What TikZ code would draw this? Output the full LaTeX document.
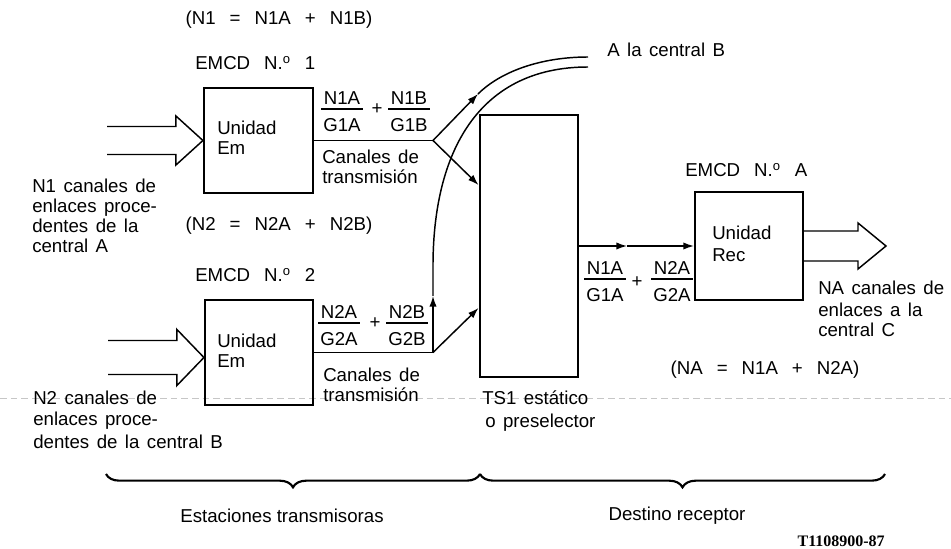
\documentclass[tikz,border=0pt]{standalone}
\usepackage{fontspec}
\setmainfont{Liberation Sans}
\newfontfamily\tagfont{Liberation Serif}
\usetikzlibrary{arrows.meta,calc,decorations.pathreplacing}
\newcommand\wsp{\hspace{0.35em}}
\newcommand\ordo{N.\textsuperscript{o}}
\newcommand\lblfont{\fontsize{14}{16}\selectfont\spaceskip=0.4em\relax}
\begin{document}
\begin{tikzpicture}[x=0.75pt,y=-0.75pt,
  lbl/.style={anchor=base west, inner sep=0pt, font=\lblfont},
  lblc/.style={anchor=base, inner sep=0pt, font=\lblfont},
  plus/.style={anchor=center, inner sep=0pt, font=\lblfont},
  blk/.style={draw, line width=1.6pt, inner sep=0pt},
  conn/.style={line width=1.1pt},
  tipd/.style={-{Latex[length=8pt,width=5.5pt]}},
  fbar/.style={line width=1.2pt},
  hollow/.style={line width=1.1pt, line join=miter},
  brc/.style={line width=1.6pt, decorate, decoration={brace, mirror, amplitude=10pt}},
  noise/.style={gray!45, line width=0.5pt, dash pattern=on 5pt off 3pt}
]
\useasboundingbox (0,0) rectangle (951,549);

% faint scan line
\draw[noise] (0,398) -- (951,398);

% blocks
\node[blk, minimum width=81.75pt, minimum height=78.75pt] (em1) at (258.5,140.5) {};
\node[blk, minimum width=81pt, minimum height=78.75pt] (em2) at (259,352.5) {};
\node[blk, line width=2.2pt, minimum width=73.5pt, minimum height=196.5pt] (tsi) at (529,246) {};
\node[blk, minimum width=81pt, minimum height=81pt] (rec) at (749,246) {};

% hollow input arrows
\coordinate (in1a) at (107,126.5);
\coordinate (in1b) at (107,154.5);
\draw[hollow] (in1a) -- ($(em1.west)+(-27,-14)$) -- ($(em1.west)+(-27,-24.5)$) -- (em1.west)
  -- ($(em1.west)+(-27,24.5)$) -- ($(em1.west)+(-27,14)$) -- (in1b);
\coordinate (tip2) at ($(em2.west)+(0,5)$);
\coordinate (in2a) at (108,340.5);
\coordinate (in2b) at (108,374.5);
\draw[hollow] (in2a) -- ($(tip2)+(-27,-17)$) -- ($(tip2)+(-27,-28)$) -- (tip2)
  -- ($(tip2)+(-27,28)$) -- ($(tip2)+(-27,17)$) -- (in2b);

% hollow output arrow
\coordinate (outtip) at (886,246);
\draw[hollow] ($(rec.east)+(0,-15)$) -- (858,231) -- (858,223) -- (outtip)
  -- (858,269) -- (858,261) -- ($(rec.east)+(0,15)$);

% connectors from EMCD 1
\coordinate (s1) at (433,140.5);
\coordinate (b1) at (478,94);
\coordinate (toB1) at (588,57);
\coordinate (t1in) at (tsi.west |- 0,185);
\draw[conn] (em1.east) -- (s1);
\draw[conn,tipd] (s1) -- (b1);
\draw[conn] (b1) .. controls (500,72) and (540,57) .. (toB1);
\draw[conn,tipd] (s1) -- (t1in);

% connectors from EMCD 2
\coordinate (s2) at (433,352.5);
\coordinate (up2) at (433,296);
\coordinate (bend2) at (433,270);
\coordinate (toB2) at (588,67);
\coordinate (t2in) at (tsi.west |- 0,308);
\draw[conn] (em2.east) -- (s2);
\draw[conn,tipd] (s2) -- (up2);
\draw[conn] (up2) -- (bend2) .. controls (432,150) and (480,67) .. (toB2);
\draw[conn,tipd] (s2) -- (t2in);

% TSI to receiver
\coordinate (mid3) at (627,246);
\draw[conn,tipd] (tsi.east) -- (mid3);
\draw[conn,tipd] (mid3) -- (rec.west);

% texts top
\node[lblc] (eq1) at (279,25) {(N1\wsp{} =\wsp{} N1A\wsp{} +\wsp{} N1B)};
\node[lbl] (emcd1) at (195,70) {EMCD\wsp{} \ordo\wsp{} 1};
\node[lbl] (un1) at (217,135) {Unidad};
\node[lbl] (em1t) at (217,155) {Em};

% fraction 1
\node[lblc] (f1n1) at (342,105) {N1A};
\node[lblc] (f1d1) at (342,132) {G1A};
\draw[fbar] (321,109) -- (363,109);
\node[plus] (f1p) at (377,109) {+};
\node[lblc] (f1n2) at (409,105) {N1B};
\node[lblc] (f1d2) at (409,132) {G1B};
\draw[fbar] (388,109) -- (430,109);

\node[lbl] (can1a) at (322,164) {Canales de};
\node[lbl] (can1b) at (322,184) {transmisión};

\node[lbl] (n1a) at (32,193) {N1 canales de};
\node[lbl] (n1b) at (32,213) {enlaces proce-};
\node[lbl] (n1c) at (32,233) {dentes de la};
\node[lbl] (n1d) at (32,253) {central A};

% EMCD 2
\node[lblc] (eq2) at (279,231) {(N2\wsp{} =\wsp{} N2A\wsp{} +\wsp{} N2B)};
\node[lbl] (emcd2) at (195,282) {EMCD\wsp{} \ordo\wsp{} 2};
\node[lbl] (un2) at (217,348) {Unidad};
\node[lbl] (em2t) at (217,368) {Em};

\node[lblc] (f2n1) at (339,319) {N2A};
\node[lblc] (f2d1) at (339,346) {G2A};
\draw[fbar] (318,323) -- (360,323);
\node[plus] (f2p) at (375,323) {+};
\node[lblc] (f2n2) at (407,319) {N2B};
\node[lblc] (f2d2) at (407,346) {G2B};
\draw[fbar] (386,323) -- (428,323);

\node[lbl] (can2a) at (323,382) {Canales de};
\node[lbl] (can2b) at (323,402) {transmisión};

\node[lbl] (n2a) at (33,404) {N2 canales de};
\node[lbl] (n2b) at (33,426) {enlaces proce-};
\node[lbl] (n2c) at (33,449) {dentes de la central B};

\node[lbl] (tsia) at (482,404) {TS1 estático};
\node[lbl] (tsib) at (485,427) {o preselector};

% right side
\node[lbl] (toB) at (607,57) {A la central B};
\node[lbl] (emcdA) at (685,177) {EMCD\wsp{} \ordo\wsp{} A};
\node[lbl] (unA) at (712,240) {Unidad};
\node[lbl] (recA) at (712,262) {Rec};

\node[lblc] (f3n1) at (605,275) {N1A};
\node[lblc] (f3d1) at (605,302) {G1A};
\draw[fbar] (584,279) -- (626,279);
\node[plus] (f3p) at (637,282) {+};
\node[lblc] (f3n2) at (672,275) {N2A};
\node[lblc] (f3d2) at (672,302) {G2A};
\draw[fbar] (651,279) -- (693,279);

\node[lbl] (naa) at (818,295) {NA canales de};
\node[lbl] (nab) at (818,317) {enlaces a la};
\node[lbl] (nac) at (818,337) {central C};
\node[lblc] (eqA) at (765,374) {(NA\wsp{} =\wsp{} N1A\wsp{} +\wsp{} N2A)};

% braces
\coordinate (br0) at (106,474);
\coordinate (br1) at (480,474);
\coordinate (br2) at (885,474);
\draw[brc] (br0) -- (br1);
\draw[brc] (br1) -- (br2);
\node[anchor=base, inner sep=0pt, font=\fontsize{14}{16}\selectfont] (est) at (282,522) {Estaciones transmisoras};
\node[anchor=base, inner sep=0pt, font=\fontsize{14}{16}\selectfont] (dest) at (677,520) {Destino receptor};
\node[anchor=base east, inner sep=0pt, font=\tagfont\bfseries\fontsize{12}{14}\selectfont] (tag) at (885,546) {T1108900-87};
\end{tikzpicture}
\end{document}
